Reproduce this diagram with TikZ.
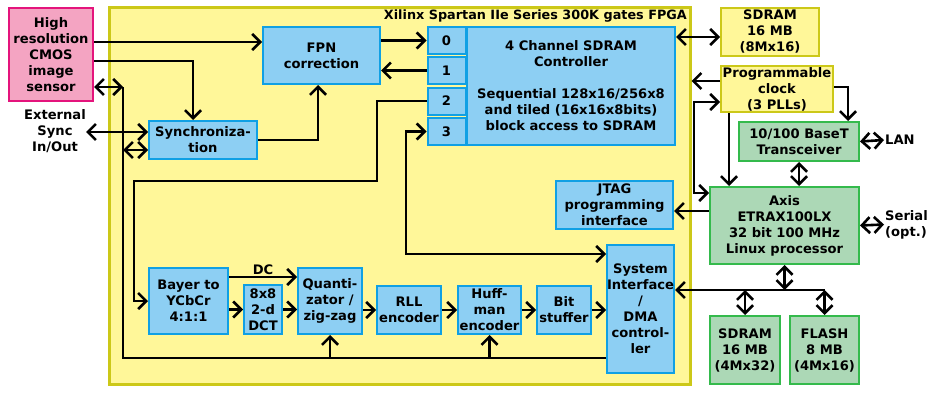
\documentclass[tikz,border=0pt]{standalone}
\usepackage{fontspec}
\setmainfont{DejaVu Sans}
\usetikzlibrary{arrows.meta}
\definecolor{bluefill}{RGB}{141,207,243}
\definecolor{blueline}{RGB}{16,160,228}
\definecolor{pinkfill}{RGB}{244,164,194}
\definecolor{pinkline}{RGB}{228,20,124}
\definecolor{greenfill}{RGB}{172,216,182}
\definecolor{greenline}{RGB}{52,186,76}
\definecolor{yelfill}{RGB}{255,247,153}
\definecolor{yelline}{RGB}{204,200,24}
\begin{document}
\begin{tikzpicture}[x=1pt,y=-1pt,
  txt/.style={font=\bfseries\fontsize{13.1}{16}\selectfont},
  abox/.style={txt, draw, line width=2pt, align=center, inner sep=0pt},
  bbox/.style={abox, draw=blueline, fill=bluefill},
  pbox/.style={abox, draw=pinkline, fill=pinkfill},
  gbox/.style={abox, draw=greenline, fill=greenfill},
  ybox/.style={abox, draw=yelline, fill=yelfill},
  conn/.style={line width=2.6pt, draw=black, line join=miter},
  >={Straight Barb[length=8pt,width=16pt]}
]
\useasboundingbox (0,0) rectangle (939,412);
\fill[white] (0,0) rectangle (939,412);

% FPGA
\node[draw=yelline, fill=yelfill, line width=3pt, minimum width=581pt, minimum height=376pt, inner sep=0pt] (fpga) at (399.5,196) {};
\node[txt, anchor=base east, inner sep=0pt, font=\bfseries\fontsize{12.8}{16}\selectfont] (title) at (687,19.5) {Xilinx Spartan IIe Series 300K gates FPGA};

% left
\node[pbox, minimum width=84pt, minimum height=93pt] (sensor) at (51,54.5) {High\\resolution\\CMOS\\image\\sensor};
\node[txt, align=center, inner sep=0pt] (ext) at (55,131) {External\\Sync\\In/Out};
\coordinate (extsync) at (86,132);

% FPGA internal
\node[bbox, minimum width=117pt, minimum height=57pt] (fpn) at (321.5,55.5) {FPN\\correction};
\node[bbox, minimum width=38pt, minimum height=27pt] (p0) at (446.5,40.5) {0};
\node[bbox, minimum width=38pt, minimum height=27pt] (p1) at (446.5,70.5) {1};
\node[bbox, minimum width=38pt, minimum height=27pt] (p2) at (446.5,101) {2};
\node[bbox, minimum width=38pt, minimum height=27pt] (p3) at (446.5,131.5) {3};
\node[bbox, minimum width=208pt, minimum height=118pt] (ctrl) at (571,86) {4 Channel SDRAM\\Controller\\[16pt]Sequential 128x16/256x8\\and tiled (16x16x8bits)\\block access to SDRAM};
\node[bbox, minimum width=108pt, minimum height=38pt] (sync) at (203,140) {Synchroniza-\\tion};
\node[bbox, minimum width=117pt, minimum height=48pt] (jtag) at (614.5,205) {JTAG\\programming\\interface};
\node[bbox, minimum width=67pt, minimum height=128pt] (sysif) at (640.5,309) {System\\Interface\\/\\DMA\\control-\\ler};
\node[bbox, minimum width=79pt, minimum height=66pt] (bayer) at (188.5,301) {Bayer to\\YCbCr\\4:1:1};
\node[bbox, minimum width=38pt, minimum height=49pt] (dct) at (263,309.5) {8x8\\2-d\\DCT};
\node[bbox, minimum width=64pt, minimum height=66pt] (quant) at (330,301) {Quanti-\\zator /\\zig-zag};
\node[bbox, minimum width=64pt, minimum height=48pt] (rll) at (409,310) {RLL\\encoder};
\node[bbox, minimum width=63pt, minimum height=48pt] (huff) at (489.5,310) {Huff-\\man\\encoder};
\node[bbox, minimum width=54pt, minimum height=48pt] (bit) at (564,310) {Bit\\stuffer};

% right
\node[ybox, minimum width=98pt, minimum height=48pt] (sdramT) at (770,32) {SDRAM\\16 MB\\(8Mx16)};
\node[ybox, minimum width=112pt, minimum height=46pt] (clock) at (777,89) {Programmable\\clock\\(3 PLLs)};
\node[gbox, minimum width=120pt, minimum height=39pt] (trans) at (799,141.5) {10/100 BaseT\\Transceiver};
\node[gbox, minimum width=149pt, minimum height=77pt] (axis) at (784.5,225.5) {Axis\\ETRAX100LX\\32 bit 100 MHz\\Linux processor};
\node[gbox, minimum width=70pt, minimum height=68pt] (sdramB) at (745,350) {SDRAM\\16 MB\\(4Mx32)};
\node[gbox, minimum width=69pt, minimum height=68pt] (flash) at (824.5,350) {FLASH\\8 MB\\(4Mx16)};
\node[txt, anchor=west, inner sep=1pt] (lan) at (884,140) {LAN};
\node[txt, anchor=west, align=left, inner sep=1pt] (serial) at (884,224.5) {Serial\\(opt.)};

% connectors left / FPGA
\draw[conn,->] (sensor.east |- 0,42) -- (fpn.west |- 0,42);
\draw[conn,->] (sensor.east |- 0,61) -| (sync.north -| 193,0);
\draw[conn,<->] (sensor.east |- 0,87) -- (123,87);
\draw[conn] (123,87) -- (123,358) -- (sysif.west |- 0,358);
\draw[conn,<->] (123,150) -- (sync.west |- 0,150);
\draw[conn,<->] (extsync) -- (sync.west |- extsync);
\draw[conn,->] (sync.east) -| (fpn.south -| 318,0);
\draw[conn,->] (fpn.east |- p0) -- (p0.west);
\draw[conn,->] (p1.west) -- (fpn.east |- p1);
\draw[conn,->] (p2.west) -- (p2.west -| 377,0) -- (377,181) -- (134,181) -- (bayer.west -| 134,0) -- (bayer.west);
\draw[conn,<->] (sysif.west |- 0,254) -- (406,254) -- (p3.west -| 406,0) -- (p3.west);
\draw[conn,->] (bayer.east |- dct.west) -- (dct.west);
\draw[conn,->] (bayer.east |- 0,277) -- node[txt, midway, above=1pt, inner sep=0pt] (dc) {DC} (quant.west |- 0,277);
\draw[conn,->] (dct.east) -- (quant.west |- dct.east);
\draw[conn,->] (quant.east |- rll.west) -- (rll.west);
\draw[conn,->] (rll.east) -- (huff.west);
\draw[conn,->] (huff.east) -- (bit.west);
\draw[conn,->] (bit.east) -- (sysif.west |- bit.east);
\draw[conn,->] (quant.south |- 0,358) -- (quant.south);
\draw[conn,->] (huff.south |- 0,358) -- (huff.south);

% connectors right
\draw[conn,<->] (ctrl.east |- 0,37) -- (sdramT.west |- 0,37);
\draw[conn,->] (clock.west |- 0,81) -- (fpga.east |- 0,81);
\draw[conn,<->] (axis.west |- 0,193) -- (694,193) -- (694,102) -- (clock.west |- 0,102);
\draw[conn,->] (clock.south -| 729,0) -- (axis.north -| 729,0);
\draw[conn,->] (clock.east |- 0,87) -| (trans.north -| 848,0);
\draw[conn,<->] (trans.south) -- (trans.south |- axis.north);
\draw[conn,<->] (trans.east) -- (lan.west);
\draw[conn,<->] (axis.east) -- (serial.west);
\draw[conn,<->] (axis.south) -- (axis.south |- 0,290);
\draw[conn,<-] (sysif.east |- 0,290) -- (flash.north |- 0,290);
\draw[conn,<->] (sdramB.north |- 0,290) -- (sdramB.north);
\draw[conn,<->] (flash.north |- 0,290) -- (flash.north);
\draw[conn,->] (axis.west |- 0,211) -- (jtag.east |- 0,211);
\end{tikzpicture}
\end{document}
